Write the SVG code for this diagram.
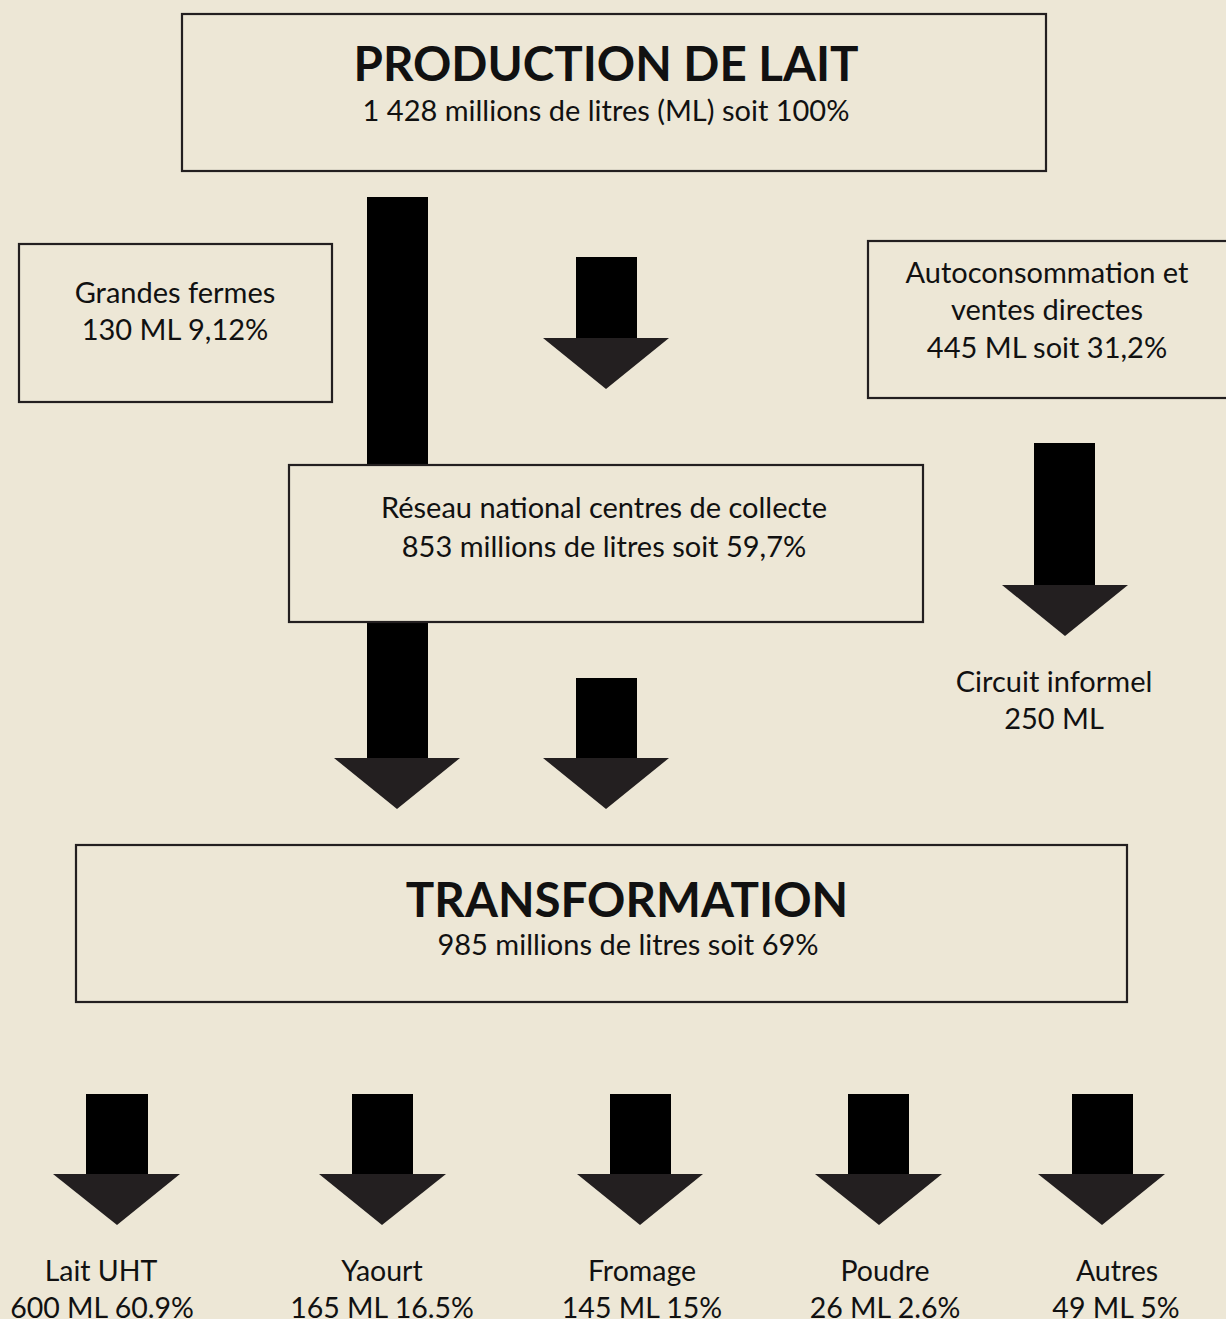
<svg xmlns="http://www.w3.org/2000/svg" width="1226" height="1319" viewBox="0 0 1226 1319">
<defs>
<style>
.box{fill:none;stroke:#231f20;stroke-width:2.2}
.shaft{fill:#000}
.head{fill:#231f20}
text{font-family:Lato,"Noto Sans","Liberation Sans",sans-serif;fill:#111;text-anchor:middle}
.t{font-size:29px}
.b{font-size:28.5px}
.h{font-size:47.5px;font-weight:bold}
.s{font-size:29px}
</style>
</defs>
<rect width="1226" height="1319" fill="#ede7d6"/>
<g id="connectors">
<rect class="shaft" x="367" y="197" width="61" height="268"/>
<g id="arrow-top-mid"><rect class="shaft" x="576" y="257" width="61" height="82"/><polygon class="head" points="543,338 669,338 606,389"/></g>
<g id="arrow-right"><rect class="shaft" x="1034" y="443" width="61" height="143"/><polygon class="head" points="1002,585 1128,585 1065,636"/></g>
<g id="arrow-left-low"><rect class="shaft" x="367" y="622" width="61" height="137"/><polygon class="head" points="334,758 460,758 397,809"/></g>
<g id="arrow-mid-low"><rect class="shaft" x="576" y="678" width="61" height="81"/><polygon class="head" points="543,758 669,758 606,809"/></g>
<g id="arrow-b1"><rect class="shaft" x="86" y="1094" width="62" height="81"/><polygon class="head" points="53,1174 180,1174 117,1225"/></g>
<g id="arrow-b2"><rect class="shaft" x="352" y="1094" width="61" height="81"/><polygon class="head" points="319,1174 446,1174 382,1225"/></g>
<g id="arrow-b3"><rect class="shaft" x="610" y="1094" width="61" height="81"/><polygon class="head" points="577,1174 703,1174 640,1225"/></g>
<g id="arrow-b4"><rect class="shaft" x="848" y="1094" width="61" height="81"/><polygon class="head" points="815,1174 942,1174 879,1225"/></g>
<g id="arrow-b5"><rect class="shaft" x="1072" y="1094" width="61" height="81"/><polygon class="head" points="1038,1174 1165,1174 1102,1225"/></g>
</g>
<g id="production">
<rect class="box" x="182" y="14" width="864" height="157"/>
<text class="h" x="606" y="81">PRODUCTION DE LAIT</text>
<text class="s" x="606" y="121">1 428 millions de litres (ML) soit 100%</text>
</g>
<g id="grandes-fermes">
<rect class="box" x="19" y="244" width="313" height="158"/>
<text class="t" x="175" y="303">Grandes fermes</text>
<text class="t" x="175" y="340">130 ML 9,12%</text>
</g>
<g id="autoconsommation">
<rect class="box" x="868" y="241" width="380" height="157"/>
<text class="t" x="1047" y="283">Autoconsommation et</text>
<text class="t" x="1047" y="320">ventes directes</text>
<text class="t" x="1047" y="358">445 ML soit 31,2%</text>
</g>
<g id="reseau">
<rect class="box" x="289" y="465" width="634" height="157"/>
<text class="s" x="604" y="518">Réseau national centres de collecte</text>
<text class="s" x="604" y="557">853 millions de litres soit 59,7%</text>
</g>
<g id="circuit-informel">
<text class="t" x="1054" y="692">Circuit informel</text>
<text class="t" x="1054" y="729">250 ML</text>
</g>
<g id="transformation">
<rect class="box" x="76" y="845" width="1051" height="157"/>
<text class="h" x="627" y="917">TRANSFORMATION</text>
<text class="s" x="628" y="955">985 millions de litres soit 69%</text>
</g>
<g id="lait-uht"><text class="b" x="101" y="1281">Lait UHT</text><text class="b" x="102" y="1318">600 ML 60.9%</text></g>
<g id="yaourt"><text class="b" x="382" y="1281">Yaourt</text><text class="b" x="382" y="1318">165 ML 16.5%</text></g>
<g id="fromage"><text class="b" x="642" y="1281">Fromage</text><text class="b" x="642" y="1318">145 ML 15%</text></g>
<g id="poudre"><text class="b" x="885" y="1281">Poudre</text><text class="b" x="885" y="1318">26 ML 2.6%</text></g>
<g id="autres"><text class="b" x="1117" y="1281">Autres</text><text class="b" x="1116" y="1318">49 ML 5%</text></g>
</svg>
